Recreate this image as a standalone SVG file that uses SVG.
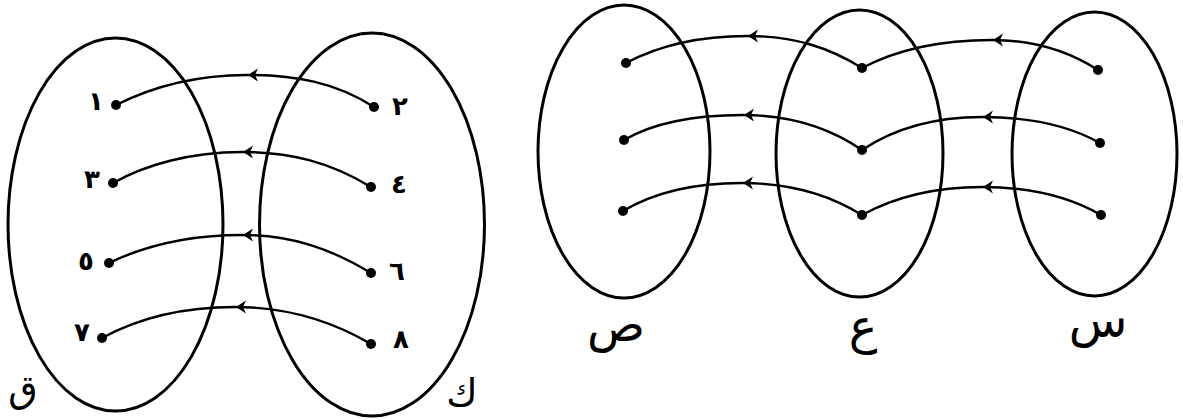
<svg xmlns="http://www.w3.org/2000/svg" width="1183" height="420" viewBox="0 0 1183 420">
  <style>
    .set { fill: none; stroke: #000; stroke-width: 3; }
    .map { fill: none; stroke: #000; stroke-width: 2.4; marker-mid: url(#arr); }
    .dot { fill: #000; }
    .num { font-family: "DejaVu Sans", sans-serif; font-size: 26px; font-weight: bold; fill: #000; text-anchor: middle; }
    .lbl { font-family: "DejaVu Sans", sans-serif; font-size: 48px; fill: #000; text-anchor: middle; }
  </style>
  <defs>
    <marker id="arr" markerUnits="userSpaceOnUse" markerWidth="16" markerHeight="14" viewBox="-14 -7 16 14" refX="0" refY="0" orient="auto" overflow="visible">
      <path d="M-1,0 L-11,-6.5 L-8,0 L-11,6.5 Z" fill="#000"/>
    </marker>
  </defs>
  <rect width="1183" height="420" fill="#fff"/>

  <!-- Left diagram -->
  <g id="set-qaf">
    <ellipse class="set" cx="115.5" cy="224.5" rx="107.5" ry="186.5"/>
    <text class="lbl" x="23" y="402" style="font-size:38px">ق</text>
  </g>
  <g id="set-kaf">
    <ellipse class="set" cx="372" cy="224.5" rx="112.5" ry="191.5"/>
    <text class="lbl" x="462" y="406" style="font-size:38px">ك</text>
  </g>

  <g id="connectors-left">
    <path class="map" d="M374,107 C335,82 295,75 247,75 C195,75 150,88 116,105"/>
    <path class="map" d="M371,187 C330,162 290,152 242,152 C190,152 145,165 113,183"/>
    <path class="map" d="M371,273 C330,248 290,235 242,235 C185,235 140,248 109,263"/>
    <path class="map" d="M371,344 C330,320 285,307 235,307 C180,307 135,320 102,338"/>
  </g>

  <g id="n1"><circle class="dot" cx="116" cy="105" r="5"/><text class="num" x="96" y="110">١</text></g>
  <g id="n3"><circle class="dot" cx="113" cy="183" r="5"/><text class="num" x="92" y="188">٣</text></g>
  <g id="n5"><circle class="dot" cx="109" cy="263" r="5"/><text class="num" x="86" y="270">٥</text></g>
  <g id="n7"><circle class="dot" cx="102" cy="338" r="5"/><text class="num" x="82" y="341">٧</text></g>
  <g id="n2"><circle class="dot" cx="374" cy="107" r="5"/><text class="num" x="400" y="115">٢</text></g>
  <g id="n4"><circle class="dot" cx="371" cy="187" r="5"/><text class="num" x="399" y="193">٤</text></g>
  <g id="n6"><circle class="dot" cx="371" cy="273" r="5"/><text class="num" x="397" y="280">٦</text></g>
  <g id="n8"><circle class="dot" cx="371" cy="344" r="5"/><text class="num" x="401" y="348">٨</text></g>

  <!-- Right diagram -->
  <g id="set-sad">
    <ellipse class="set" cx="624" cy="151.5" rx="86" ry="146.5"/>
    <text class="lbl" x="616" y="341">ص</text>
  </g>
  <g id="set-ain">
    <ellipse class="set" cx="859.5" cy="153.5" rx="83.5" ry="143.5"/>
    <text class="lbl" x="863" y="343">ع</text>
  </g>
  <g id="set-sin">
    <ellipse class="set" cx="1094.5" cy="154" rx="82.5" ry="142"/>
    <text class="lbl" x="1098" y="337">س</text>
  </g>

  <g id="connectors-right">
    <path class="map" d="M862,68 C830,48 795,36 747,36 C700,36 660,45 626,63"/>
    <path class="map" d="M862,150 C830,128 790,115 743,115 C695,115 655,122 624,140"/>
    <path class="map" d="M862,215 C830,195 790,183 742,183 C695,183 655,192 623,211"/>
    <path class="map" d="M1098,70 C1070,52 1035,40 992,40 C945,40 900,48 862,68"/>
    <path class="map" d="M1100,143 C1070,126 1030,117 982,117 C935,117 895,128 862,150"/>
    <path class="map" d="M1101,215 C1070,197 1030,187 982,187 C935,187 895,197 862,215"/>
  </g>

  <g id="dots-right">
    <circle class="dot" cx="626" cy="63" r="5"/>
    <circle class="dot" cx="624" cy="140" r="5"/>
    <circle class="dot" cx="623" cy="211" r="5"/>
    <circle class="dot" cx="862" cy="68" r="5"/>
    <circle class="dot" cx="862" cy="150" r="5"/>
    <circle class="dot" cx="862" cy="215" r="5"/>
    <circle class="dot" cx="1098" cy="70" r="5"/>
    <circle class="dot" cx="1100" cy="143" r="5"/>
    <circle class="dot" cx="1101" cy="215" r="5"/>
  </g>
</svg>
